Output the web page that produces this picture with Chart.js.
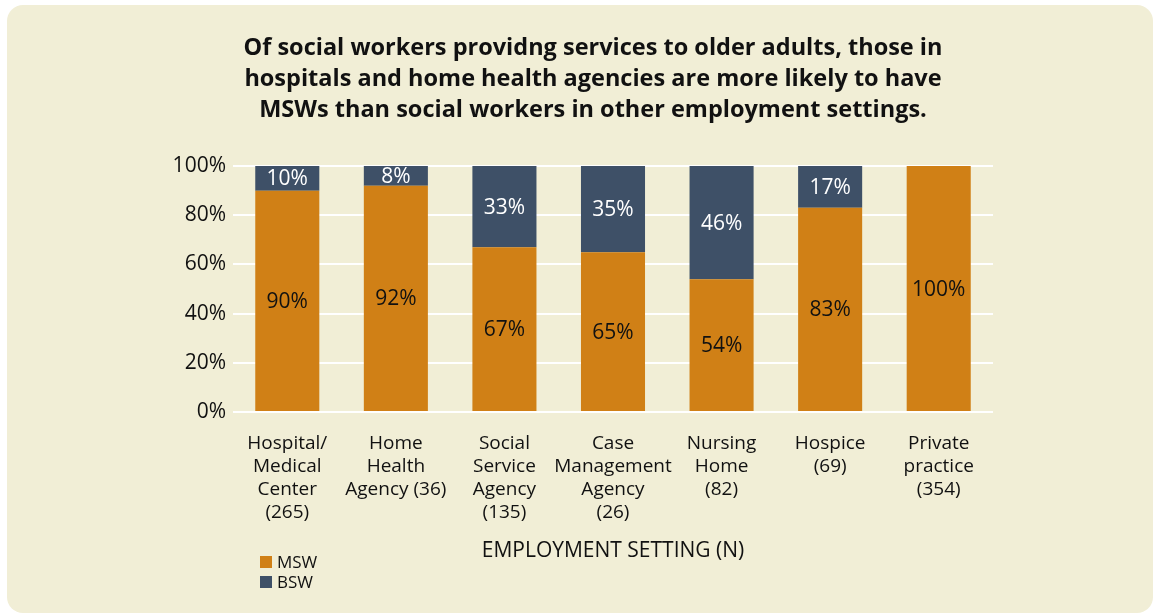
<!DOCTYPE html>
<html>
<head>
<meta charset="utf-8">
<script src="https://cdn.jsdelivr.net/npm/chart.js@4/dist/chart.umd.min.js"></script>
<style>
  html, body { margin: 0; padding: 0; background: #ffffff; }
  #wrap { width: 1154px; height: 615px; position: relative; }
</style>
</head>
<body>
<div id="wrap"><canvas id="chart" width="1154" height="615"></canvas></div>
<script>
// Employment settings (with sample sizes), split into label lines
const settings = [
  ['Hospital/', 'Medical', 'Center', '(265)'],
  ['Home', 'Health', 'Agency (36)'],
  ['Social', 'Service', 'Agency', '(135)'],
  ['Case', 'Management', 'Agency', '(26)'],
  ['Nursing', 'Home', '(82)'],
  ['Hospice', '(69)'],
  ['Private', 'practice', '(354)']
];

// Share of social workers holding each degree, in percent
const mswShare = [90, 92, 67, 65, 54, 83, 100];
const bswShare = [10, 8, 33, 35, 46, 17, 0];

const seriesNames = ['MSW', 'BSW'];
const yTicks = [0, 20, 40, 60, 80, 100];

const titleLines = [
  'Of social workers providng services to older adults, those in',
  'hospitals and home health agencies are more likely to have',
  'MSWs than social workers in other employment settings.'
];
const axisTitle = 'EMPLOYMENT SETTING (N)';

const PANEL = '#f1eed6';
const ORANGE = '#d08016';
const NAVY = '#3e5067';
const FONT = '"Open Sans", "Noto Sans", sans-serif';

// Rounded cream panel behind the whole figure
const panelPlugin = {
  id: 'panel',
  beforeDraw(chart) {
    const ctx = chart.ctx;
    ctx.save();
    ctx.fillStyle = '#ffffff';
    ctx.fillRect(0, 0, chart.width, chart.height);
    ctx.fillStyle = PANEL;
    ctx.beginPath();
    ctx.roundRect(7, 5, 1146, 608, 16);
    ctx.fill();
    ctx.restore();
  }
};

// Percent labels centred in each bar segment
const segmentLabels = {
  id: 'segmentLabels',
  afterDatasetsDraw(chart) {
    const ctx = chart.ctx;
    ctx.save();
    ctx.font = '21px ' + FONT;
    ctx.textAlign = 'center';
    ctx.textBaseline = 'middle';
    chart.data.datasets.forEach((ds, di) => {
      const meta = chart.getDatasetMeta(di);
      ctx.fillStyle = di === 0 ? '#111111' : '#ffffff';
      meta.data.forEach((bar, i) => {
        const v = ds.data[i];
        if (!v) return;
        ctx.fillText(v + '%', bar.x, (bar.y + bar.base) / 2 + 1);
      });
    });
    ctx.restore();
  }
};

// Small stacked legend in the lower left
const cornerLegend = {
  id: 'cornerLegend',
  afterDraw(chart) {
    const ctx = chart.ctx;
    ctx.save();
    ctx.font = '17px ' + FONT;
    ctx.textBaseline = 'middle';
    ctx.textAlign = 'left';
    chart.data.datasets.forEach((ds, i) => {
      const y = 562 + i * 20;
      ctx.fillStyle = ds.backgroundColor;
      ctx.fillRect(260, y - 6, 12, 12);
      ctx.fillStyle = '#111111';
      ctx.fillText(ds.label, 277, y + 1);
    });
    ctx.restore();
  }
};

new Chart(document.getElementById('chart'), {
  type: 'bar',
  data: {
    labels: settings,
    datasets: [
      { label: seriesNames[0], data: mswShare, backgroundColor: ORANGE },
      { label: seriesNames[1], data: bswShare, backgroundColor: NAVY }
    ]
  },
  options: {
    responsive: false,
    animation: false,
    devicePixelRatio: 1,
    layout: { padding: { left: 32, right: 0, top: 0, bottom: 0 } },
    datasets: { bar: { barPercentage: 0.59, categoryPercentage: 1.0, borderWidth: 0 } },
    plugins: {
      legend: { display: false },
      tooltip: { enabled: false },
      title: {
        display: true,
        text: titleLines,
        color: '#111111',
        font: { family: FONT, size: 23.5, weight: 'bold', lineHeight: 1.32 },
        padding: { top: 33, bottom: 40 }
      }
    },
    scales: {
      x: {
        stacked: true,
        grid: { display: false, drawTicks: false },
        border: { display: false },
        ticks: {
          color: '#111111',
          font: { family: FONT, size: 19, lineHeight: 1.21 },
          padding: 20,
          maxRotation: 0,
          autoSkip: false
        },
        title: {
          display: true,
          text: axisTitle,
          color: '#111111',
          font: { family: FONT, size: 21, lineHeight: 1.2 },
          padding: { top: 0, bottom: 51 }
        },
        afterFit(scale) { scale.height = 203; }
      },
      y: {
        stacked: true,
        min: 0,
        max: 100,
        afterBuildTicks(scale) { scale.ticks = yTicks.map(v => ({ value: v })); },
        grid: { color: '#ffffff', lineWidth: 2, drawTicks: false },
        border: { display: false },
        ticks: {
          color: '#111111',
          font: { family: FONT, size: 21 },
          padding: 7,
          callback: v => v + '%'
        },
        afterFit(scale) { scale.width = 201; }
      },
      yRight: {
        position: 'right',
        min: 0,
        max: 100,
        grid: { display: false, drawTicks: false },
        border: { display: false },
        ticks: { display: false },
        afterFit(scale) { scale.width = 161; }
      }
    }
  },
  plugins: [panelPlugin, segmentLabels, cornerLegend]
});
</script>
</body>
</html>
